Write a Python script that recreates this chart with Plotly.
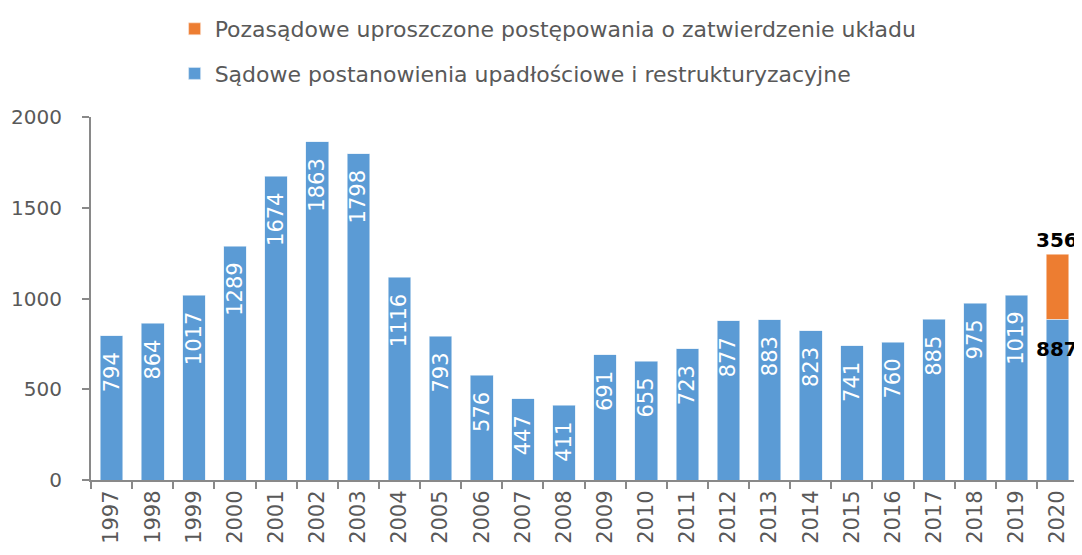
import plotly.graph_objects as go

years = [str(y) for y in range(1997, 2021)]
sadowe = [794, 864, 1017, 1289, 1674, 1863, 1798, 1116, 793, 576, 447, 411,
          691, 655, 723, 877, 883, 823, 741, 760, 885, 975, 1019, 887]
pozasadowe_years = ["2020"]
pozasadowe = [356]

name_blue = "Sądowe postanowienia upadłościowe i restrukturyzacyjne"
name_orange = "Pozasądowe uproszczone postępowania o zatwierdzenie układu"

BLUE = "#5B9BD5"
ORANGE = "#ED7D31"
GREY = "#595959"
AX = "#898989"
FONT = "DejaVu Sans"

NB = "\u00a0"
blue_text = [str(v) + NB * 2 for v in sadowe[:-1]] + [""]

fig = go.Figure()
fig.add_trace(go.Bar(
    x=years, y=sadowe, name=name_blue, legendgroup="b", legendrank=2,
    marker=dict(color=BLUE, line=dict(color="#DDEBF7", width=0.6)),
    text=blue_text, textposition="inside", insidetextanchor="end",
    textangle=-90, constraintext="none",
    insidetextfont=dict(color="white", size=21, family=FONT),
))
fig.add_trace(go.Bar(
    x=pozasadowe_years, y=pozasadowe, name=name_orange, legendgroup="a", legendrank=1,
    marker=dict(color=ORANGE, line=dict(color="#FBE5D6", width=0.6)),
))

idx_2020 = years.index(pozasadowe_years[-1])
total_2020 = sadowe[idx_2020] + pozasadowe[-1]
fig.add_annotation(x=idx_2020, y=sadowe[idx_2020], text="<b>%d</b>" % sadowe[idx_2020],
                   showarrow=False, yanchor="top", yshift=-16,
                   font=dict(color="black", size=20, family=FONT))
fig.add_annotation(x=idx_2020, y=total_2020, text="<b>%d</b>" % pozasadowe[-1],
                   showarrow=False, yanchor="bottom", yshift=0,
                   font=dict(color="black", size=20, family=FONT))

fig.update_layout(
    width=1082, height=555,
    barmode="stack", bargap=0.45,
    plot_bgcolor="white", paper_bgcolor="white",
    margin=dict(l=83, r=12, t=109, b=83, autoexpand=False),
    font=dict(family=FONT, color=GREY),
    showlegend=True,
    legend=dict(
        orientation="v", x=0.154, xanchor="left", y=1.025, yanchor="top",
        yref="container", xref="container", traceorder="grouped", tracegroupgap=13,
        font=dict(size=22, color=GREY, family=FONT),
        itemwidth=30,
    ),
    xaxis=dict(
        type="category", range=[-0.5, len(years) - 0.5], autorange=False,
        tickangle=-90, showline=True, linecolor=AX, linewidth=2,
        ticks="outside", tickson="boundaries", ticklen=7, tickcolor=AX, tickwidth=2,
        tickfont=dict(size=21, color=GREY, family=FONT), showgrid=False,
    ),
    yaxis=dict(
        range=[0, 2000], dtick=500, showline=True, linecolor=AX, linewidth=2,
        ticks="outside", ticklen=7, tickcolor=AX, tickwidth=2, ticklabelstandoff=16,
        tickfont=dict(size=20, color=GREY, family=FONT), showgrid=False,
        zeroline=False,
    ),
)

fig.write_html("out.html")
